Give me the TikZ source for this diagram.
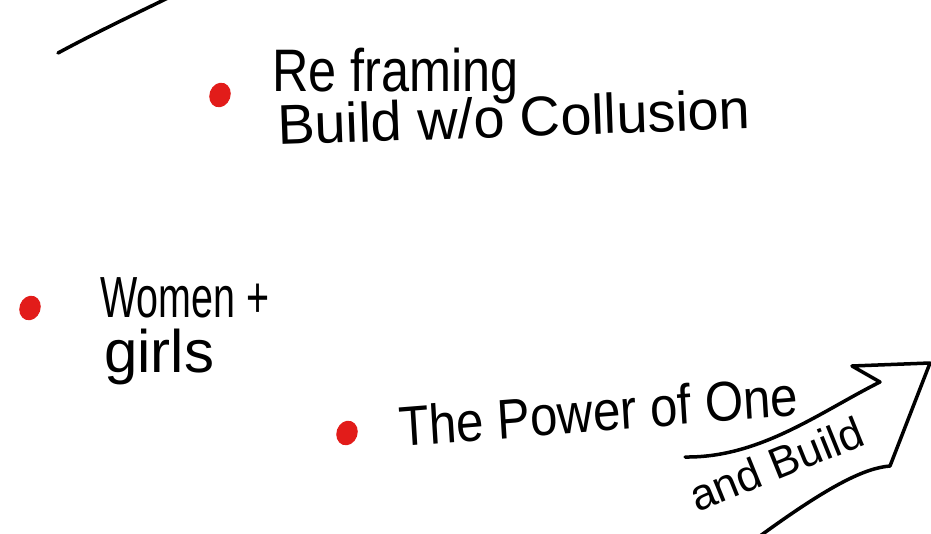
\documentclass[tikz,border=0pt]{standalone}
\usepackage{fontspec}
\setmainfont{Liberation Sans}
\usetikzlibrary{shapes.geometric}
\begin{document}
\begin{tikzpicture}[x=1pt,y=-1pt,
  hand/.style={anchor=base west,inner sep=0pt,font=\fontsize{56}{60}\selectfont},
  dot/.style={ellipse,fill=dotred,draw=none,minimum width=21pt,minimum height=25pt,inner sep=0pt},
  ink/.style={line width=3.5pt,line cap=round,line join=round,draw=black}]
\definecolor{dotred}{RGB}{226,28,26}
\useasboundingbox (0,0) rectangle (931,534);
% top-left stroke
\draw[ink] (58,53) .. controls (95,33) and (135,14) .. (172,-4);
% bullets
\node[dot,rotate=-20] (d1) at (220,95) {};
\node[dot,rotate=-20] (d2) at (30,308) {};
\node[dot,rotate=-20] (d3) at (347,433) {};
% texts
\node[hand,font=\fontsize{60}{64}\selectfont,xscale=0.84] (t1) at (272,92) {Re framing};
\node[hand,rotate=2] (t2) at (278,145) {Build w/o Collusion};
\node[hand,font=\fontsize{58}{62}\selectfont,xscale=0.68] (t3) at (100,318) {Women +};
\node[hand,font=\fontsize{60}{64}\selectfont] (t4) at (104,372) {girls};
\node[hand,xscale=0.88,rotate=4] (t5) at (400,447) {The Power of One};
\node[hand,font=\fontsize{44}{48}\selectfont,rotate=22] (t6) at (697,513) {and Build};
% arrow
\draw[ink] (685,457) .. controls (760,458) and (820,412) .. (880,382)
  -- (852,366) -- (930,363) -- (890,466)
  .. controls (865,468) and (830,485) .. (760,536);
\end{tikzpicture}
\end{document}
